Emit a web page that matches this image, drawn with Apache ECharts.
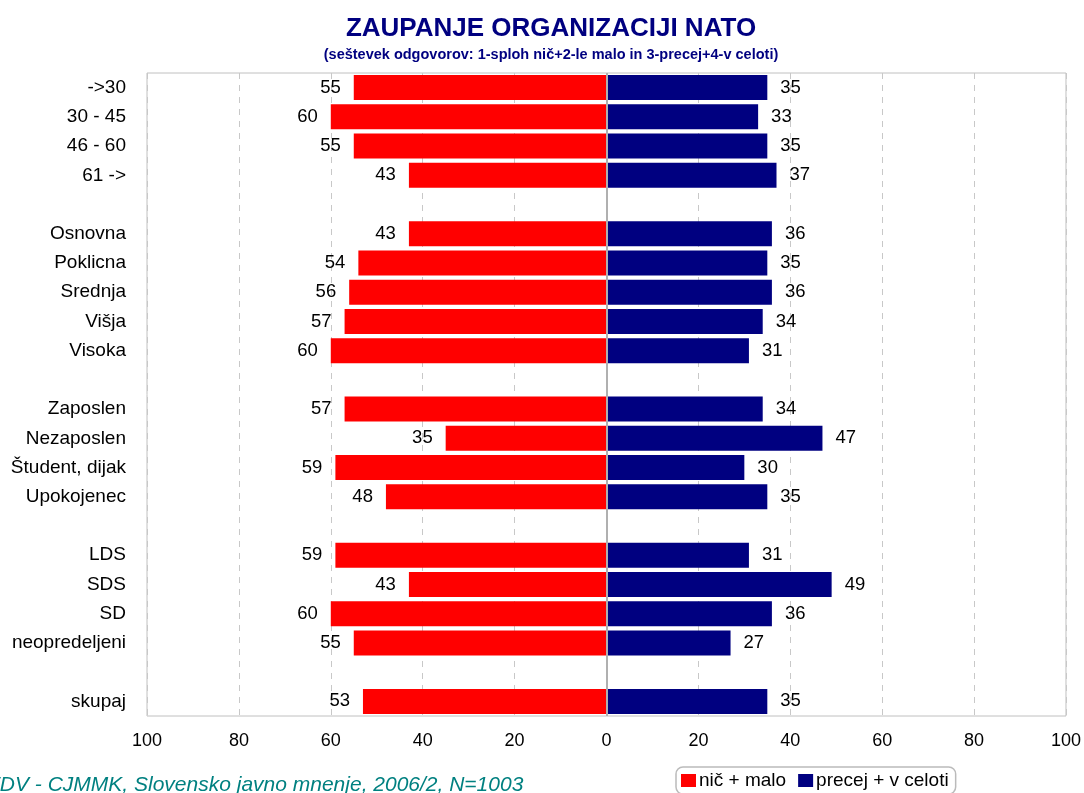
<!DOCTYPE html>
<html>
<head>
<meta charset="utf-8">
<script src="https://cdn.jsdelivr.net/npm/echarts@6/dist/echarts.min.js"></script>
<style>
  html, body { margin: 0; padding: 0; background: #fff; }
  #main { width: 1084px; height: 793px; }
</style>
</head>
<body>
<div id="main"></div>
<script>
// rows, blank strings are the gaps between groups
const categories = ['->30', '30 - 45', '46 - 60', '61 ->', ' ',
    'Osnovna', 'Poklicna', 'Srednja', 'Višja', 'Visoka', '  ',
    'Zaposlen', 'Nezaposlen', 'Študent, dijak', 'Upokojenec', '   ',
    'LDS', 'SDS', 'SD', 'neopredeljeni', '    ',
    'skupaj'];
const nicMalo = [55, 60, 55, 43, '-', 43, 54, 56, 57, 60, '-', 57, 35, 59, 48, '-', 59, 43, 60, 55, '-', 53];
const precejCeloti = [35, 33, 35, 37, '-', 36, 35, 36, 34, 31, '-', 34, 47, 30, 35, '-', 31, 49, 36, 27, '-', 35];
const xTicks = [-100, -80, -60, -40, -20, 0, 20, 40, 60, 80, 100];

const font = 'Liberation Sans, Arial, sans-serif';
const chart = echarts.init(document.getElementById('main'), null, { renderer: 'canvas' });

chart.setOption({
    animation: false,
    textStyle: { fontFamily: font },
    title: {
        text: 'ZAUPANJE ORGANIZACIJI NATO',
        subtext: '(seštevek odgovorov: 1-sploh nič+2-le malo in 3-precej+4-v celoti)',
        left: 546,
        textAlign: 'center',
        top: 11,
        itemGap: 5,
        textStyle: { fontFamily: font, fontSize: 26, fontWeight: 'bold', color: '#000080' },
        subtextStyle: { fontFamily: font, fontSize: 14.5, fontWeight: 'bold', color: '#000080' }
    },
    legend: {
        left: 676,
        top: 767,
        padding: [4, 7, 4, 5],
        borderColor: '#bbbbbb',
        borderWidth: 1.5,
        borderRadius: 7,
        itemWidth: 15,
        itemHeight: 13,
        itemGap: 12,
        icon: 'rect',
        textStyle: { fontFamily: font, fontSize: 19, color: '#000', padding: [0, 0, 0, -2] },
        data: ['nič + malo', 'precej + v celoti']
    },
    grid: {
        left: 147,
        right: 17,
        top: 73,
        bottom: 77,
        show: true,
        borderColor: '#c0c0c0',
        borderWidth: 1
    },
    xAxis: {
        type: 'value',
        min: xTicks[0],
        max: xTicks[xTicks.length - 1],
        interval: 20,
        axisLine: { show: false },
        axisTick: { show: false },
        axisLabel: {
            fontFamily: font, fontSize: 18, color: '#000', margin: 16,
            formatter: v => Math.abs(v)
        },
        splitLine: { lineStyle: { color: '#c8c8c8', type: [6, 6], width: 1 } }
    },
    yAxis: {
        type: 'category',
        inverse: true,
        data: categories,
        axisLine: { show: false },
        axisTick: { show: false },
        axisLabel: { fontFamily: font, fontSize: 19, color: '#000', margin: 21 },
        splitLine: { show: false }
    },
    series: [
        {
            name: 'nič + malo',
            type: 'bar',
            barWidth: 25,
            barGap: '-100%',
            itemStyle: { color: '#ff0000' },
            data: nicMalo.map(v => v === '-' ? '-' : -v),
            label: {
                show: true, position: 'left', distance: 13,
                fontFamily: font, fontSize: 18.5, color: '#000',
                formatter: p => Math.abs(p.value)
            },
            markLine: {
                silent: true,
                symbol: 'none',
                label: { show: false },
                lineStyle: { color: '#b0b0b0', type: 'solid', width: 2 },
                data: [{ xAxis: 0 }]
            }
        },
        {
            name: 'precej + v celoti',
            type: 'bar',
            barWidth: 25,
            barGap: '-100%',
            itemStyle: { color: '#000080' },
            data: precejCeloti,
            label: {
                show: true, position: 'right', distance: 13,
                fontFamily: font, fontSize: 18.5, color: '#000'
            }
        }
    ],
    graphic: [{
        type: 'text',
        left: -13,
        top: 775,
        style: {
            text: 'FDV - CJMMK, Slovensko javno mnenje, 2006/2, N=1003',
            fontFamily: font,
            fontSize: 21,
            fontStyle: 'italic',
            fill: '#008080'
        }
    }]
});
</script>
</body>
</html>
